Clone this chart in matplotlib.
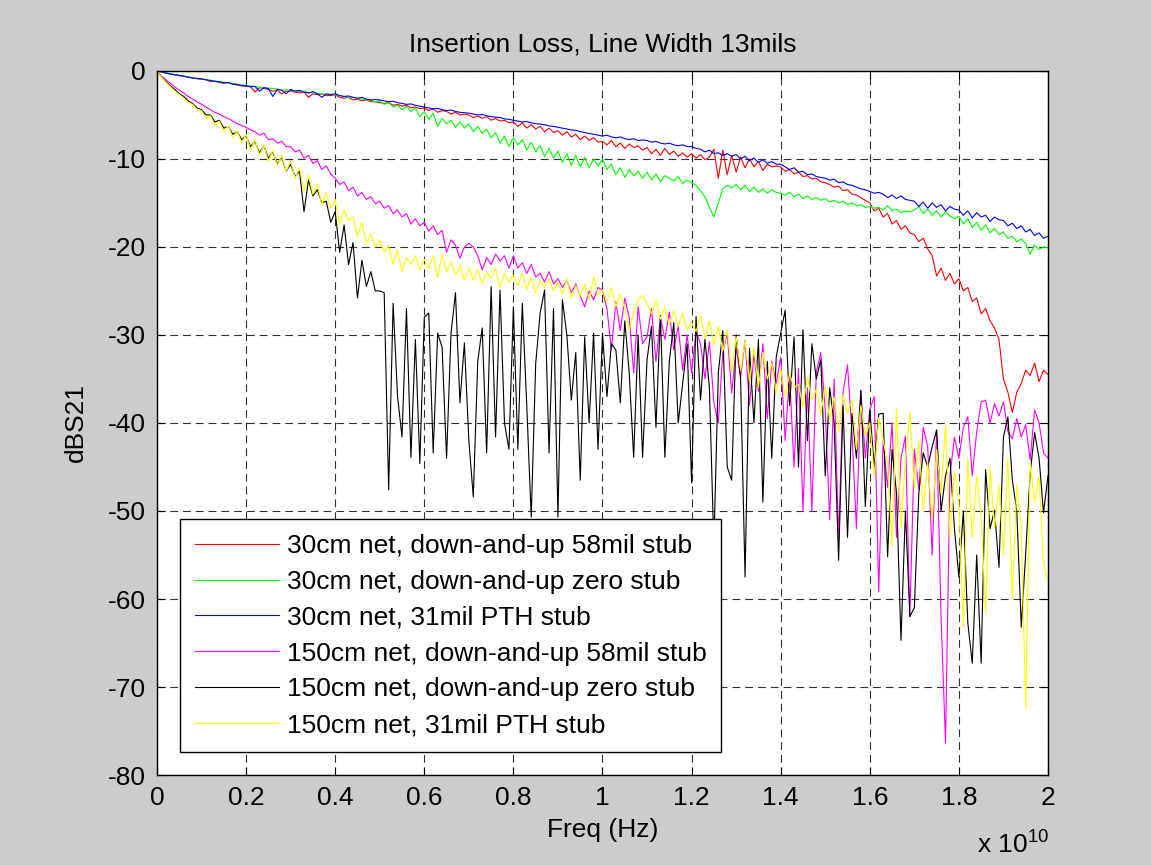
import numpy as np
import matplotlib
matplotlib.use('Agg')
import matplotlib.pyplot as plt
from matplotlib.ticker import FixedLocator, FuncFormatter

plt.rcParams['font.family'] = ['Liberation Sans', 'DejaVu Sans']
plt.rcParams['mathtext.fontset'] = 'custom'
plt.rcParams['mathtext.rm'] = 'Liberation Sans'
plt.rcParams['axes.unicode_minus'] = False

# frequency grid, 0.1 GHz step (Hz)
freq = np.linspace(0, 2e10, 201)

labels = ['30cm net, down-and-up 58mil stub',
          '30cm net, down-and-up zero stub',
          '30cm net, 31mil PTH stub',
          '150cm net, down-and-up 58mil stub',
          '150cm net, down-and-up zero stub',
          '150cm net, 31mil PTH stub']
colors = ['#ff0000', '#00ff00', '#0000ff', '#ff00ff', '#000000', '#ffff00']

# dB(S21), one row = 1 GHz
red_30_58 = [
    0, -0.1, -0.25, -0.35, -0.45, -0.55, -0.6, -0.7, -0.8, -0.9,
    -0.95, -1.0, -1.2, -1.15, -1.3, -1.4, -1.35, -1.5, -1.6, -1.7,
    -1.75, -1.8, -2.4, -1.9, -2.0, -2.1, -2.3, -2.2, -2.6, -2.3,
    -2.3, -2.4, -2.5, -2.4, -3.0, -2.6, -2.7, -2.6, -2.8, -2.8,
    -2.7, -3.0, -3.1, -3.0, -3.3, -3.2, -3.4, -3.3, -3.5, -3.5,
    -3.6, -3.7, -3.6, -3.9, -3.8, -4.0, -3.9, -4.2, -4.1, -4.3,
    -4.2, -4.5, -4.3, -4.7, -4.5, -4.6, -4.9, -4.7, -5.0, -4.9,
    -5.0, -5.3, -5.1, -5.4, -5.2, -5.6, -5.4, -5.7, -5.6, -5.9,
    -5.8, -6.3, -5.9, -6.5, -6.1, -6.6, -6.3, -6.9, -6.5, -7.0,
    -6.8, -7.3, -6.9, -7.5, -7.2, -7.8, -7.4, -7.9, -7.6, -8.1,
    -8.0, -8.4, -7.9, -8.6, -8.2, -8.8, -8.3, -8.7, -8.5, -9.0,
    -8.7, -9.4, -8.9, -9.6, -8.8, -9.5, -9.1, -9.7, -9.3, -9.8,
    -9.4, -9.9, -9.5, -10.1, -9.8, -8.9, -12.2, -9.0, -11.8, -9.6,
    -11.5, -9.8, -11.0, -10.0, -10.9, -10.3, -11.3, -10.6, -10.9, -10.8,
    -10.9, -11.4, -11.2, -11.7, -11.5, -12.0, -11.9, -12.3, -12.2, -12.6,
    -12.7, -12.9, -13.2, -13.1, -13.6, -13.5, -14.0, -14.1, -14.4, -14.7,
    -15.0, -15.9, -15.6, -16.6, -16.2, -17.4, -17.0, -18.0, -17.6, -18.4,
    -18.6, -19.4, -19.0, -20.2, -21.0, -23.3, -22.4, -23.8, -23.0, -24.2,
    -23.6, -25.0, -24.6, -26.2, -25.8, -27.6, -27.0, -28.4, -29.2, -30.5,
    -35.0, -36.5, -38.8, -36.5, -35.5, -34.0, -34.6, -33.2, -35.3, -34.0,
    -34.5]

green_30_zero = [
    0, -0.1, -0.2, -0.3, -0.4, -0.5, -0.6, -0.7, -0.8, -0.85,
    -0.9, -1.0, -1.05, -1.15, -1.2, -1.3, -1.35, -1.4, -1.5, -1.6,
    -1.65, -1.7, -1.8, -1.85, -1.9, -1.95, -2.0, -2.05, -2.2, -2.15,
    -2.2, -2.3, -2.35, -2.3, -2.45, -2.5, -2.55, -2.6, -2.7, -2.65,
    -2.7, -2.8, -2.9, -3.0, -3.0, -3.1, -3.2, -3.3, -3.35, -3.5,
    -3.4, -3.8, -3.6, -4.1, -3.9, -4.4, -4.0, -4.6, -4.2, -5.2,
    -4.6, -5.5, -4.8, -6.3, -5.4, -6.0, -5.6, -6.4, -5.8, -6.5,
    -6.0, -6.9, -6.3, -7.1, -6.6, -7.6, -7.0, -8.2, -7.4, -8.6,
    -7.6, -8.4, -7.8, -9.0, -8.1, -9.2, -8.5, -9.7, -8.8, -9.9,
    -9.1, -10.4, -9.4, -10.7, -9.6, -10.9, -9.8, -11.0, -10.0, -10.8,
    -10.0, -11.2, -10.6, -11.8, -11.0, -12.1, -11.2, -11.9, -11.4, -12.2,
    -11.5, -12.4, -11.7, -12.6, -11.9, -12.2, -12.5, -12.0, -12.8, -12.4,
    -12.7, -13.0, -13.6, -14.3, -15.5, -16.6, -15.0, -13.4, -13.0, -13.3,
    -12.9, -13.5, -13.0, -13.7, -13.2, -13.8, -13.4, -13.9, -13.5, -13.8,
    -13.9, -14.1, -13.8, -14.3, -14.0, -14.5, -14.2, -14.6, -14.4, -14.7,
    -14.5, -14.9, -14.7, -15.0, -14.8, -15.2, -15.0, -15.3, -15.2, -15.5,
    -15.4, -15.6, -15.5, -15.8, -15.3, -15.9, -15.7, -16.1, -15.9, -16.0,
    -15.8, -15.4, -16.2, -15.7, -16.4, -15.9, -16.6, -16.0, -16.5, -16.8,
    -16.5, -17.4, -16.8, -17.8, -17.2, -18.1, -17.5, -18.4, -17.9, -18.6,
    -18.3, -19.0, -18.8, -19.4, -19.1, -19.6, -20.8, -19.8, -20.3, -20.0,
    -20.1]

blue_30_pth = [
    0, -0.1, -0.25, -0.35, -0.45, -0.5, -0.6, -0.7, -0.8, -0.85,
    -0.9, -1.0, -1.1, -1.2, -1.25, -1.35, -1.3, -1.5, -1.55, -1.65,
    -1.7, -1.8, -1.75, -2.3, -1.9, -2.0, -2.9, -2.1, -2.2, -2.6,
    -2.1, -2.3, -2.2, -2.4, -2.5, -2.35, -2.6, -3.0, -2.6, -2.7,
    -2.6, -2.8, -2.9, -2.85, -3.0, -3.1, -3.0, -3.2, -3.3, -3.25,
    -3.3, -3.4, -3.5, -3.45, -3.6, -3.7, -3.8, -3.75, -3.9, -4.0,
    -4.1, -4.2, -4.3, -4.25, -4.4, -4.5, -4.45, -4.6, -4.7, -4.75,
    -4.8, -4.9, -5.0, -4.95, -5.1, -5.2, -5.25, -5.3, -5.45, -5.5,
    -5.6, -5.7, -5.8, -5.75, -5.9, -6.0, -6.05, -6.1, -6.25, -6.3,
    -6.4, -6.5, -6.6, -6.7, -6.75, -6.9, -7.0, -7.1, -7.2, -7.3,
    -7.4, -7.3, -7.5, -7.6, -7.5, -7.7, -7.8, -7.7, -7.9, -7.85,
    -7.9, -8.1, -8.0, -8.2, -8.3, -8.2, -8.4, -8.5, -8.4, -8.6,
    -8.6, -8.8, -8.9, -9.2, -9.0, -9.4, -9.3, -9.6, -9.4, -9.7,
    -9.5, -10.0, -9.7, -10.2, -9.9, -10.4, -10.1, -10.5, -10.3, -10.6,
    -10.6, -10.9, -11.2, -11.0, -11.5, -11.4, -11.8, -11.7, -12.0, -12.1,
    -12.2, -12.4, -12.3, -12.7, -12.6, -12.9, -13.0, -13.2, -13.4, -13.5,
    -13.7, -13.9, -13.8, -14.0, -14.4, -14.1, -14.5, -14.2, -14.6, -14.7,
    -14.8, -15.4, -14.9, -15.6, -15.0, -15.5, -15.2, -15.9, -15.4, -15.7,
    -15.8, -16.4, -15.9, -16.7, -16.1, -16.6, -16.4, -17.1, -16.6, -16.9,
    -17.0, -17.6, -17.3, -17.9, -17.6, -18.3, -18.0, -18.7, -18.4, -19.0,
    -18.8]

magenta_150_58 = [
    0, -0.6, -1.0, -1.4, -1.8, -2.2, -2.5, -2.9, -3.2, -3.5,
    -3.8, -4.1, -4.4, -4.7, -4.9, -5.2, -5.4, -5.7, -6.0, -6.2,
    -6.4, -6.7, -6.9, -7.3, -7.1, -7.8, -7.7, -8.2, -8.0, -8.6,
    -8.6, -9.2, -9.0, -9.9, -9.6, -10.5, -10.2, -11.2, -10.8, -11.7,
    -12.2, -12.9, -12.6, -13.6, -13.2, -14.2, -13.8, -14.6, -14.3, -15.1,
    -14.8, -15.6, -15.3, -16.2, -15.8, -16.6, -16.2, -17.4, -16.8, -17.6,
    -17.2, -18.2, -17.6, -18.6, -18.1, -20.6, -19.2, -19.8, -21.3, -20.0,
    -19.6, -20.0, -21.0, -22.6, -21.2, -22.0, -20.8, -21.6, -21.0, -22.4,
    -21.0, -22.4, -21.8, -23.0, -22.0, -23.4, -23.0, -24.0, -22.8, -24.2,
    -23.6, -24.6, -23.8, -25.2, -24.2, -25.6, -26.8, -25.0, -26.0, -24.6,
    -24.9, -27.0, -31.7, -26.2, -29.5, -25.8, -28.0, -34.3, -26.8, -31.0,
    -30.2, -27.0, -33.0, -28.0, -30.5, -27.4, -31.7, -29.0, -34.0, -30.0,
    -34.3, -29.6, -31.0, -35.0, -30.8, -37.7, -40.0, -32.0, -29.8, -36.6,
    -31.5, -34.8, -30.6, -38.0, -32.2, -36.4, -31.0, -39.5, -33.0, -35.5,
    -32.5, -42.0, -34.6, -45.0, -33.8, -50.0, -36.0, -50.0, -34.2, -32.0,
    -38.5, -51.0, -35.0, -53.3, -36.5, -33.4, -41.0, -52.0, -36.3, -44.0,
    -38.5, -37.0, -59.2, -42.0, -47.3, -40.0, -53.0, -44.0, -41.5, -62.0,
    -43.0, -47.5, -40.5, -42.7, -55.0, -40.8, -62.0, -76.4, -46.0, -41.6,
    -44.0, -40.5, -39.3, -46.0, -41.0, -37.6, -37.4, -40.0, -37.8, -39.2,
    -37.6, -41.0, -41.8, -39.5, -41.6, -40.2, -44.2, -38.5, -40.0, -43.4,
    -44.0]

black_150_zero = [
    0, -0.7, -1.2, -1.7, -2.1, -2.6, -2.9, -3.4, -3.7, -4.2,
    -4.4, -5.0, -5.0, -5.8, -5.6, -6.5, -6.3, -7.2, -6.9, -7.8,
    -7.4, -8.6, -8.0, -9.3, -8.5, -9.9, -9.2, -10.6, -9.8, -11.4,
    -10.6, -12.0, -11.4, -16.0, -12.4, -14.2, -13.5, -15.0, -14.8, -17.2,
    -16.0, -20.6, -17.5, -22.0, -19.5, -25.8, -21.5, -24.5, -22.8, -25.0,
    -25.0, -25.2, -47.6, -26.4, -37.0, -41.6, -27.0, -43.9, -30.5, -44.6,
    -28.0, -27.5, -43.4, -29.8, -31.4, -44.0, -29.8, -25.2, -37.7, -30.9,
    -42.0, -48.4, -33.0, -29.2, -43.4, -24.5, -41.6, -24.9, -40.0, -43.0,
    -26.8, -43.0, -26.4, -38.0, -50.7, -33.3, -27.5, -24.9, -43.4, -27.0,
    -50.7, -26.0, -30.0, -37.4, -32.0, -46.5, -30.2, -40.0, -29.8, -43.0,
    -29.8, -37.0, -31.0, -31.7, -37.7, -28.4, -34.3, -43.9, -30.0, -43.9,
    -32.8, -29.0, -40.5, -27.8, -43.9, -33.0, -28.6, -40.0, -35.5, -31.0,
    -46.8, -27.9, -37.4, -30.5, -36.0, -54.0, -34.3, -29.5, -45.0, -46.5,
    -30.0, -35.0, -57.5, -31.5, -40.0, -30.5, -49.0, -33.0, -44.0, -32.5,
    -29.8, -27.2, -38.0, -30.2, -45.0, -29.4, -42.0, -31.0, -35.0, -32.8,
    -46.0, -36.0, -40.0, -55.6, -38.0, -53.0, -38.9, -44.0, -36.3, -49.5,
    -38.5, -45.0, -39.0, -38.9, -55.2, -43.0, -48.0, -64.7, -50.0, -62.0,
    -61.0, -48.0, -43.4, -45.0, -42.7, -40.8, -50.0, -46.0, -44.0, -52.0,
    -57.5, -50.0, -62.7, -67.3, -55.0, -67.3, -45.3, -52.0, -49.9, -56.4,
    -41.6, -39.3, -46.5, -50.0, -63.2, -54.8, -45.7, -41.1, -44.0, -50.2,
    -46.0]

yellow_150_pth = [
    0, -0.7, -1.3, -1.8, -2.3, -2.7, -3.1, -3.6, -3.8, -4.4,
    -4.5, -5.4, -5.1, -6.2, -5.7, -6.9, -6.2, -7.6, -6.8, -8.2,
    -7.2, -9.0, -7.8, -9.6, -8.4, -10.3, -9.0, -10.8, -9.6, -11.4,
    -10.2, -12.2, -11.0, -13.7, -11.8, -14.0, -12.9, -15.2, -13.8, -15.6,
    -14.6, -17.5, -15.8, -17.0, -16.6, -18.8, -17.2, -19.6, -18.5, -20.0,
    -19.2, -20.6, -19.8, -22.0, -20.4, -22.8, -21.2, -22.0, -21.0, -22.6,
    -21.4, -22.4, -21.0, -23.5, -20.9, -22.8, -21.7, -23.2, -22.0, -23.8,
    -22.4, -23.8, -22.6, -24.2, -22.8, -23.6, -22.4, -24.6, -23.0, -24.0,
    -23.2, -24.4, -23.0, -24.8, -23.4, -25.2, -23.8, -24.6, -23.6, -25.0,
    -24.0, -25.4, -23.6, -25.8, -24.4, -25.6, -24.2, -26.0, -23.4, -25.4,
    -24.9, -26.2, -24.6, -26.8, -25.4, -27.0, -29.4, -27.4, -26.0, -25.5,
    -26.4, -27.6, -26.0, -28.2, -26.8, -28.8, -27.2, -29.0, -27.5, -29.4,
    -28.6, -29.6, -27.8, -30.4, -28.4, -31.2, -29.0, -31.8, -29.4, -34.3,
    -30.2, -34.0, -30.6, -35.2, -31.4, -36.0, -32.0, -35.0, -33.2, -36.6,
    -33.8, -37.0, -34.4, -36.0, -35.6, -38.2, -34.8, -37.4, -36.2, -39.0,
    -35.8, -39.6, -37.0, -41.0, -36.8, -38.9, -37.4, -43.0, -38.0, -41.5,
    -40.0, -46.0, -39.4, -42.0, -44.5, -54.0, -38.3, -52.0, -44.0, -38.8,
    -47.5, -42.0, -50.0, -44.5, -51.0, -43.0, -48.0, -40.2, -53.0, -45.5,
    -49.0, -63.2, -44.0, -53.0, -46.0, -50.5, -61.6, -45.0, -52.0, -47.0,
    -55.0, -44.0, -60.0, -47.0, -52.0, -72.3, -44.5, -49.0, -46.0, -56.0,
    -58.0]

series = [red_30_58, green_30_zero, blue_30_pth,
          magenta_150_58, black_150_zero, yellow_150_pth]

fig = plt.figure(figsize=(11.51, 8.65), dpi=100)
fig.patch.set_facecolor('#cccccc')
ax = fig.add_axes([0.1364, 0.104, 0.7741, 0.814])

for s, c, lab in zip(series, colors, labels):
    ax.plot(freq, s, color=c, lw=0.8, label=lab)

ax.set_xlim(0, 2e10)
ax.set_ylim(-80, 0)
ax.xaxis.set_major_locator(FixedLocator(np.arange(0, 2.01e10, 0.2e10)))
ax.yaxis.set_major_locator(FixedLocator(np.arange(-80, 1, 10)))
ax.xaxis.set_major_formatter(FuncFormatter(lambda v, p: '%g' % round(v / 1e10, 1)))
ax.tick_params(direction='in', top=True, right=True, length=6, width=0.8,
               labelsize=19, pad=8)
ax.grid(True, color='#303030', lw=0.8, linestyle=(0, (7, 4.5)))
for sp in ax.spines.values():
    sp.set_linewidth(1.0)

ax.set_title('Insertion Loss, Line Width 13mils', fontsize=19, pad=14)
ax.set_xlabel('Freq (Hz)', fontsize=19, labelpad=6)
ax.set_ylabel('dBS21', fontsize=19, labelpad=14)
fig.text(0.849, 0.014, r'x 10$^{10}$', fontsize=19)

leg = ax.legend(loc='lower left', bbox_to_anchor=(0.026, 0.033), borderaxespad=0,
                fontsize=19, handlelength=3.2, handletextpad=0.3, labelspacing=0.45,
                borderpad=0.55, fancybox=False, framealpha=1)
leg.get_frame().set_edgecolor('black')
leg.get_frame().set_linewidth(1.0)

plt.savefig('out.png', dpi=100, facecolor=fig.get_facecolor())
